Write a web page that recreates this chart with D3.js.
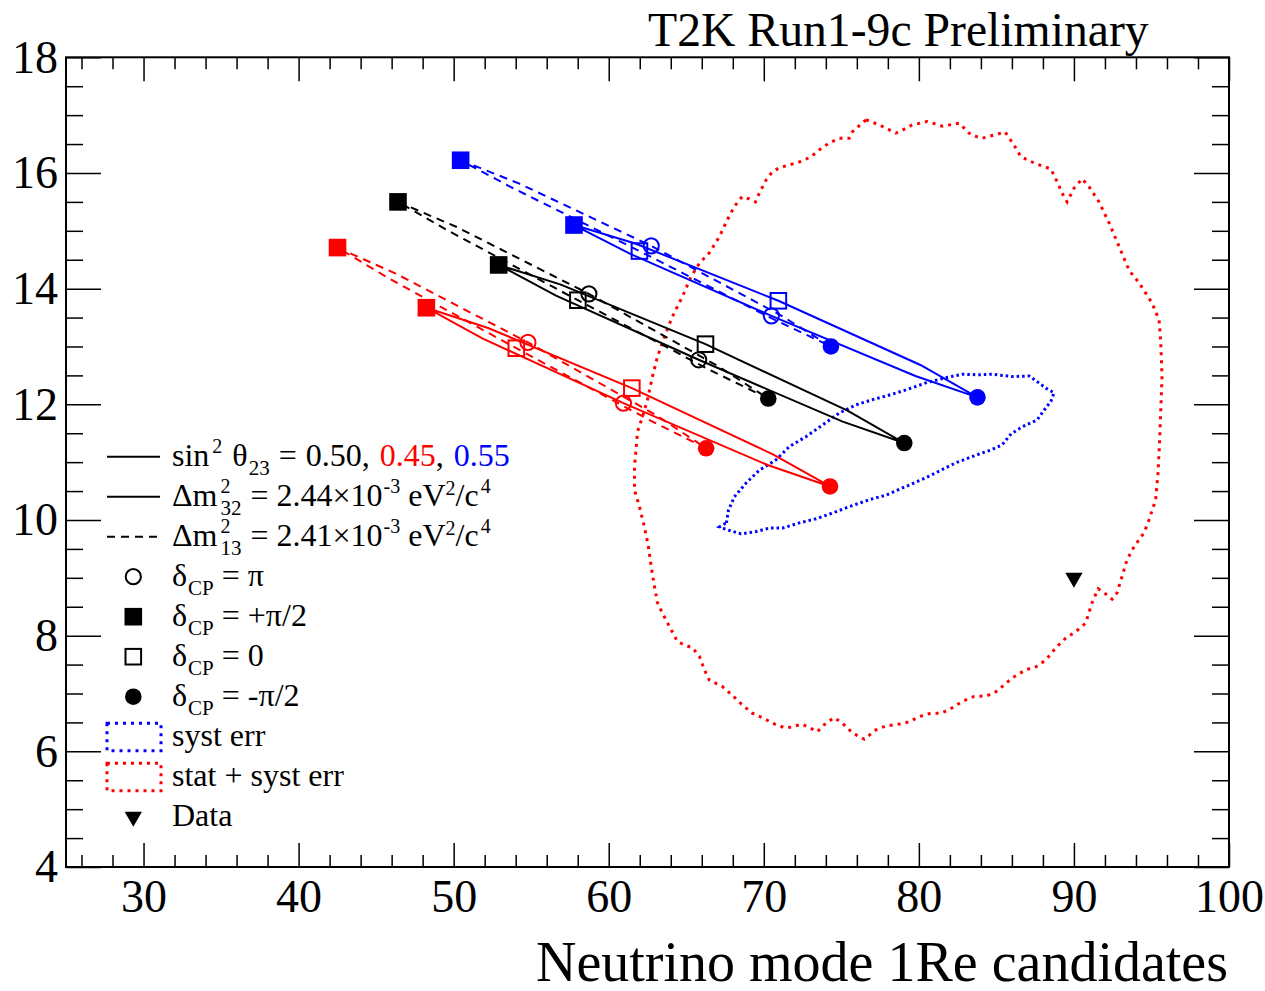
<!DOCTYPE html>
<html>
<head>
<meta charset="utf-8">
<script src="https://cdn.jsdelivr.net/npm/d3@7"></script>
<style>
  html, body { margin: 0; padding: 0; background: #ffffff; }
  svg { display: block; }
  text { font-family: "Liberation Serif", "Times New Roman", serif; }
</style>
</head>
<body>
<svg id="chart" width="1265" height="991"></svg>
<script>
// ---------------- data ----------------
const xDomain = [25, 100];
const yDomain = [4, 18];
const xMajorTicks = [30, 40, 50, 60, 70, 80, 90, 100];
const yMajorTicks = [4, 6, 8, 10, 12, 14, 16, 18];

// Expected event rates (x: neutrino mode 1Re, y: antineutrino mode 1Re)
// vertex order along each loop in delta_CP:
const deltaCPSteps = ["+π/2", "3π/4", "π", "-3π/4", "-π/2", "-π/4", "0", "π/4"];

// sin^2 theta23 = 0.50
const loopNH050 = [[52.90,14.41],[56.60,13.88],[65.80,12.77],[75.09,11.70],[79.06,11.33],[75.40,11.89],[66.24,13.04],[56.91,14.07]];
const loopIH050 = [[46.41,15.50],[50.16,15.07],[58.72,13.91],[67.05,12.66],[70.29,12.10],[66.55,12.59],[58.01,13.80],[49.66,15.00]];
// sin^2 theta23 = 0.45
const loopNH045 = [[48.24,13.67],[51.85,13.14],[60.95,12.02],[70.25,10.95],[74.27,10.58],[70.62,11.13],[61.49,12.28],[52.22,13.32]];
const loopIH045 = [[42.51,14.71],[46.26,14.26],[54.79,13.07],[63.07,11.81],[66.28,11.24],[62.54,11.74],[54.04,12.97],[45.74,14.19]];
// sin^2 theta23 = 0.55
const loopNH055 = [[57.76,15.10],[61.39,14.60],[70.49,13.53],[79.78,12.49],[83.78,12.12],[80.10,12.68],[70.94,13.79],[61.71,14.78]];
const loopIH055 = [[50.45,16.22],[54.20,15.82],[62.74,14.74],[71.09,13.54],[74.33,13.00],[70.55,13.48],[61.98,14.65],[53.66,15.76]];

// Observed data
const dataPoint = [90, 9];

// syst err contour
const systContour = [
  [67.59,9.95],[67.72,10.17],[68.10,10.40],[68.86,10.64],[69.71,10.86],[70.79,11.04],[71.65,11.27],
  [72.72,11.44],[73.77,11.64],[74.87,11.85],[75.94,11.99],[77.00,12.08],[78.09,12.16],[79.17,12.25],
  [80.45,12.37],[81.74,12.46],[82.79,12.52],[83.89,12.51],[84.73,12.52],[86.02,12.48],[87.11,12.49],
  [87.75,12.37],[88.19,12.28],[88.72,12.20],[88.51,12.05],[88.08,11.90],[87.63,11.73],[86.66,11.61],
  [85.95,11.49],[85.37,11.30],[84.64,11.21],[83.68,11.12],[82.39,10.99],[81.42,10.86],[80.45,10.73],
  [79.17,10.58],[77.88,10.43],[76.80,10.35],[75.51,10.23],[74.42,10.12],[73.37,10.02],[72.29,9.95],
  [71.20,9.86],[70.36,9.86],[69.50,9.80],[68.54,9.76],[67.65,9.83],[67.14,9.88]
];

// stat + syst err contour
const statSystContour = [
  [76.59,16.92],[77.45,16.83],[78.52,16.69],[78.93,16.74],[79.57,16.83],[80.54,16.89],[81.51,16.81],
  [82.60,16.86],[83.35,16.66],[84.08,16.60],[85.05,16.67],[85.56,16.71],[86.14,16.48],[86.58,16.28],
  [87.54,16.16],[88.51,16.07],[88.91,15.85],[89.37,15.58],[89.56,15.50],[90.01,15.74],[90.53,15.90],
  [90.98,15.76],[91.62,15.50],[92.26,15.14],[92.91,14.73],[93.55,14.32],[94.20,14.10],[95.04,13.75],
  [95.49,13.46],[95.60,13.06],[95.68,12.48],[95.60,11.90],[95.52,11.33],[95.42,10.81],[95.27,10.35],
  [94.84,10.00],[94.52,9.78],[93.88,9.54],[93.42,9.31],[93.10,9.02],[92.78,8.74],[92.46,8.63],
  [92.05,8.72],[91.56,8.81],[91.17,8.57],[90.76,8.22],[90.12,8.07],[89.48,7.96],[88.83,7.79],
  [88.19,7.58],[87.54,7.46],[86.90,7.41],[86.02,7.27],[85.37,7.12],[84.96,7.03],[84.40,6.96],
  [83.57,6.95],[82.79,6.86],[81.96,6.72],[81.42,6.66],[80.78,6.66],[80.02,6.60],[79.38,6.51],
  [78.73,6.47],[77.88,6.44],[77.23,6.37],[76.48,6.21],[75.71,6.32],[75.06,6.49],[74.55,6.58],
  [74.01,6.49],[73.45,6.34],[72.48,6.47],[71.43,6.40],[70.79,6.46],[69.91,6.58],[69.26,6.66],
  [68.62,6.80],[67.97,6.97],[67.33,7.12],[66.49,7.23],[66.17,7.41],[65.85,7.64],[65.40,7.79],
  [64.88,7.84],[64.43,7.90],[64.03,8.10],[63.46,8.39],[63.14,8.57],[62.95,8.85],[62.74,9.19],
  [62.56,9.54],[62.30,9.88],[61.98,10.23],[61.66,10.52],[61.66,10.92],[61.79,11.30],[61.85,11.52],
  [62.18,11.79],[62.50,12.08],[62.82,12.48],[63.14,12.82],[63.59,13.17],[64.11,13.52],[64.75,13.86],
  [65.31,14.21],[65.85,14.44],[66.49,14.62],[67.14,14.90],[67.65,15.19],[68.10,15.42],[68.60,15.59],
  [69.07,15.55],[69.46,15.50],[69.71,15.65],[70.15,15.88],[70.55,16.02],[71.00,16.09],[71.65,16.14],
  [72.40,16.20],[73.05,16.28],[73.58,16.40],[74.22,16.52],[74.87,16.60],[75.51,16.60],[75.71,16.71]
];

// ---------------- drawing ----------------
const RED = "#ff0000", BLUE = "#0000ff", BLACK = "#000000";
const svg = d3.select("#chart");
const frame = { left: 66, right: 1229, top: 57.3, bottom: 867 };

const x = d3.scaleLinear().domain(xDomain).range([frame.left, frame.right]);
const y = d3.scaleLinear().domain(yDomain).range([frame.bottom, frame.top]);

svg.append("rect").attr("width", 1265).attr("height", 991).attr("fill", "#fff");

// axes: ticks drawn inward on all four sides
const xMinorTicks = x.ticks(38).filter(v => xMajorTicks.indexOf(v) < 0 && v > xDomain[0] && v < xDomain[1]);
const yMinorTicks = y.ticks(28).filter(v => yMajorTicks.indexOf(v) < 0 && v > yDomain[0] && v < yDomain[1]);

function styleAxis(g) {
  g.select(".domain").remove();
  g.selectAll(".tick line").attr("stroke", BLACK).attr("stroke-width", 1.5);
  g.selectAll(".tick text").attr("font-size", 46).attr("fill", BLACK)
    .attr("font-family", "'Liberation Serif','Times New Roman',serif");
}
const axes = svg.append("g");
axes.append("g").attr("transform", `translate(0,${frame.bottom})`)
  .call(d3.axisBottom(x).tickValues(xMajorTicks).tickSize(-24).tickPadding(12).tickFormat(d3.format("d"))).call(styleAxis);
axes.append("g").attr("transform", `translate(0,${frame.bottom})`)
  .call(d3.axisBottom(x).tickValues(xMinorTicks).tickSize(-12).tickFormat("")).call(styleAxis);
axes.append("g").attr("transform", `translate(0,${frame.top})`)
  .call(d3.axisTop(x).tickValues(xMajorTicks).tickSize(-24).tickFormat("")).call(styleAxis);
axes.append("g").attr("transform", `translate(0,${frame.top})`)
  .call(d3.axisTop(x).tickValues(xMinorTicks).tickSize(-12).tickFormat("")).call(styleAxis);
axes.append("g").attr("transform", `translate(${frame.left},0)`)
  .call(d3.axisLeft(y).tickValues(yMajorTicks).tickSize(-35).tickPadding(8).tickFormat(d3.format("d"))).call(styleAxis);
axes.append("g").attr("transform", `translate(${frame.left},0)`)
  .call(d3.axisLeft(y).tickValues(yMinorTicks).tickSize(-17).tickFormat("")).call(styleAxis);
axes.append("g").attr("transform", `translate(${frame.right},0)`)
  .call(d3.axisRight(y).tickValues(yMajorTicks).tickSize(-35).tickFormat("")).call(styleAxis);
axes.append("g").attr("transform", `translate(${frame.right},0)`)
  .call(d3.axisRight(y).tickValues(yMinorTicks).tickSize(-17).tickFormat("")).call(styleAxis);

svg.append("rect")
  .attr("x", frame.left).attr("y", frame.top)
  .attr("width", frame.right - frame.left).attr("height", frame.bottom - frame.top)
  .attr("fill", "none").attr("stroke", BLACK).attr("stroke-width", 2);

// contours
const closedLine = d3.line().x(d => x(d[0])).y(d => y(d[1])).curve(d3.curveLinearClosed);
svg.append("path").datum(statSystContour).attr("d", closedLine)
  .attr("fill", "none").attr("stroke", RED).attr("stroke-width", 3).attr("stroke-dasharray", "3,5");
svg.append("path").datum(systContour).attr("d", closedLine)
  .attr("fill", "none").attr("stroke", BLUE).attr("stroke-width", 3).attr("stroke-dasharray", "2.5,3");

// delta_CP loops
const loops = [
  { pts: loopIH045, color: RED,   dashed: true },
  { pts: loopNH045, color: RED,   dashed: false },
  { pts: loopIH050, color: BLACK, dashed: true },
  { pts: loopNH050, color: BLACK, dashed: false },
  { pts: loopIH055, color: BLUE,  dashed: true },
  { pts: loopNH055, color: BLUE,  dashed: false }
];
loops.forEach(l => {
  svg.append("path").datum(l.pts).attr("d", closedLine)
    .attr("fill", "none").attr("stroke", l.color).attr("stroke-width", 2)
    .attr("stroke-dasharray", l.dashed ? "8,6" : null);
});

// markers
function drawMarker(g, kind, cx, cy, color) {
  if (kind === "openCircle") {
    g.append("circle").attr("cx", cx).attr("cy", cy).attr("r", 7.6)
      .attr("fill", "none").attr("stroke", color).attr("stroke-width", 2);
  } else if (kind === "fullCircle") {
    g.append("circle").attr("cx", cx).attr("cy", cy).attr("r", 8.3).attr("fill", color);
  } else if (kind === "openSquare") {
    g.append("rect").attr("x", cx - 7.8).attr("y", cy - 7.8).attr("width", 15.6).attr("height", 15.6)
      .attr("fill", "none").attr("stroke", color).attr("stroke-width", 2);
  } else if (kind === "fullSquare") {
    g.append("rect").attr("x", cx - 8.8).attr("y", cy - 8.8).attr("width", 17.6).attr("height", 17.6).attr("fill", color);
  } else if (kind === "triangleDown") {
    g.append("path").attr("d", d3.symbol().type(d3.symbolTriangle).size(130)())
      .attr("transform", `translate(${cx},${cy}) rotate(180)`).attr("fill", color);
  }
}
// marker kind for each vertex index carrying a marker
const markerAt = { 0: "fullSquare", 2: "openCircle", 4: "fullCircle", 6: "openSquare" };
const markers = svg.append("g");
loops.forEach(l => {
  Object.keys(markerAt).forEach(i => {
    const p = l.pts[+i];
    drawMarker(markers, markerAt[i], x(p[0]), y(p[1]), l.color);
  });
});
drawMarker(markers, "triangleDown", x(dataPoint[0]), y(dataPoint[1]), BLACK);

// titles
svg.append("text").attr("x", 648).attr("y", 46).attr("font-size", 47.7).attr("fill", BLACK)
  .text("T2K Run1-9c Preliminary");
svg.append("text").attr("x", 1228).attr("y", 981).attr("font-size", 56).attr("fill", BLACK)
  .attr("text-anchor", "end").text("Neutrino mode 1Re candidates");

// legend
const legend = svg.append("g");
function richText(g, x0, baseline, segs) {
  let cursor = x0, lastStart = x0;
  segs.forEach(s => {
    const size = s.size || 32;
    const sx = s.stack ? lastStart : cursor + (s.gap || 0);
    const t = g.append("text").attr("x", sx).attr("y", baseline + (s.dy || 0))
      .attr("font-size", size).attr("fill", s.fill || BLACK).text(s.t);
    const w = t.node().getComputedTextLength();
    if (!s.stack) lastStart = sx;
    cursor = s.stack ? Math.max(cursor, sx + w) : sx + w;
  });
}
const legX = 172, rowY0 = 456.7, rowStep = 40, base = 9;
const SUP = -13, SUB = 9, SMALL = 21, SUPSIZE = 20;
const rows = [
  { sample: "solid", segs: [
    { t: "sin" }, { t: "2", size: SUPSIZE, dy: SUP, gap: 3 }, { t: "θ", gap: 10 }, { t: "23", size: SMALL, dy: SUB, gap: 1 },
    { t: "=", gap: 9 }, { t: "0.50,", gap: 9 }, { t: "0.45", gap: 10, fill: RED }, { t: "," }, { t: "0.55", gap: 10, fill: BLUE } ] },
  { sample: "solid", segs: [
    { t: "Δm" }, { t: "2", size: SUPSIZE, dy: SUP, gap: 3 }, { t: "32", size: SMALL, dy: SUB, stack: true },
    { t: "=", gap: 9 }, { t: "2.44×10", gap: 8 }, { t: "-3", size: SUPSIZE, dy: SUP, gap: 1 },
    { t: "eV", gap: 8 }, { t: "2", size: SUPSIZE, dy: -11 }, { t: "/c" }, { t: "4", size: SUPSIZE, dy: SUP, gap: 2 } ] },
  { sample: "dashed", segs: [
    { t: "Δm" }, { t: "2", size: SUPSIZE, dy: SUP, gap: 3 }, { t: "13", size: SMALL, dy: SUB, stack: true },
    { t: "=", gap: 9 }, { t: "2.41×10", gap: 8 }, { t: "-3", size: SUPSIZE, dy: SUP, gap: 1 },
    { t: "eV", gap: 8 }, { t: "2", size: SUPSIZE, dy: -11 }, { t: "/c" }, { t: "4", size: SUPSIZE, dy: SUP, gap: 2 } ] },
  { sample: "openCircle", segs: [ { t: "δ" }, { t: "CP", size: SMALL, dy: SUB, gap: 1 }, { t: "=", gap: 8 }, { t: "π", gap: 8 } ] },
  { sample: "fullSquare", segs: [ { t: "δ" }, { t: "CP", size: SMALL, dy: SUB, gap: 1 }, { t: "=", gap: 8 }, { t: "+π/2", gap: 8 } ] },
  { sample: "openSquare", segs: [ { t: "δ" }, { t: "CP", size: SMALL, dy: SUB, gap: 1 }, { t: "=", gap: 8 }, { t: "0", gap: 8 } ] },
  { sample: "fullCircle", segs: [ { t: "δ" }, { t: "CP", size: SMALL, dy: SUB, gap: 1 }, { t: "=", gap: 8 }, { t: "-π/2", gap: 8 } ] },
  { sample: "blueBox", segs: [ { t: "syst err" } ] },
  { sample: "redBox", segs: [ { t: "stat + syst err" } ] },
  { sample: "triangleDown", segs: [ { t: "Data" } ] }
];
rows.forEach((r, i) => {
  const cy = rowY0 + i * rowStep;
  if (r.sample === "solid" || r.sample === "dashed") {
    legend.append("line").attr("x1", 107).attr("x2", 160).attr("y1", cy).attr("y2", cy)
      .attr("stroke", BLACK).attr("stroke-width", 2)
      .attr("stroke-dasharray", r.sample === "dashed" ? "8,6" : null);
  } else if (r.sample === "blueBox" || r.sample === "redBox") {
    legend.append("rect").attr("x", 107).attr("y", cy - 13.5).attr("width", 54).attr("height", 27.5)
      .attr("fill", "none").attr("stroke", r.sample === "blueBox" ? BLUE : RED)
      .attr("stroke-width", 3).attr("stroke-dasharray", "3,5");
  } else {
    drawMarker(legend, r.sample, 133.3, cy, BLACK);
  }
  richText(legend, legX, cy + base, r.segs);
});
</script>
</body>
</html>
